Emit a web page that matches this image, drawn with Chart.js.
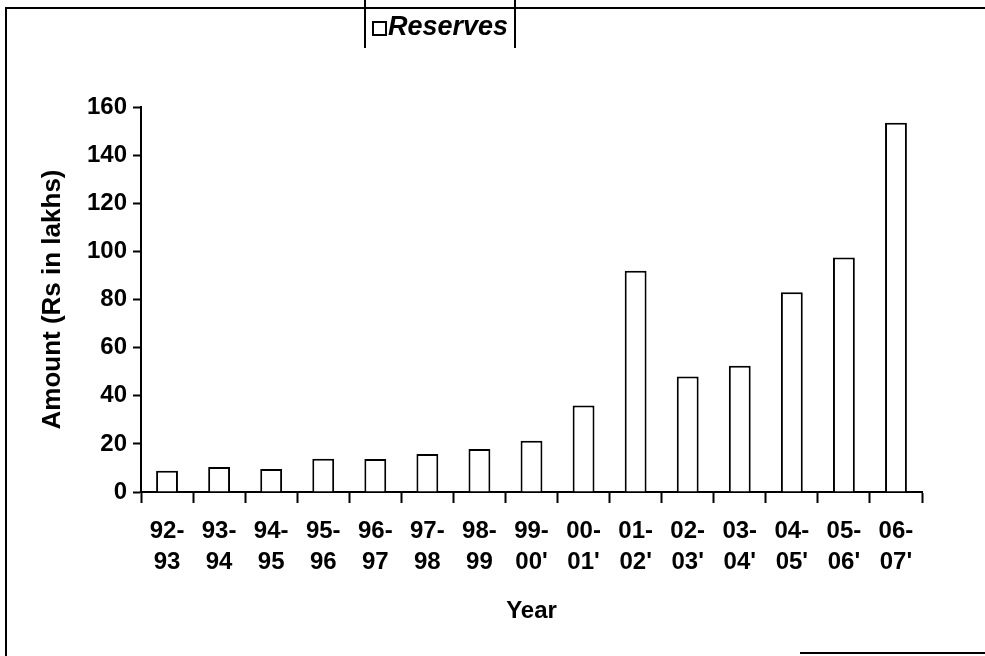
<!DOCTYPE html>
<html>
<head>
<meta charset="utf-8">
<script src="https://cdn.jsdelivr.net/npm/chart.js@4"></script>
<style>
    html, body { margin: 0; padding: 0; background: #fff; }
    #wrap { position: relative; width: 985px; height: 656px; }
    #legendBox {
        position: absolute; left: 364px; top: 0; width: 152px; height: 48px;
        border-left: 2px solid #000; border-right: 2px solid #000;
        box-sizing: border-box;
        font: italic bold 27px 'Liberation Sans', Arial, sans-serif;
        color: #000;
    }
    #legendBox span.sw {
        position: absolute; left: 6px; top: 21px; width: 11px; height: 11px;
        border: 2px solid #000; background: #fff;
    }
    #legendBox span.txt { position: absolute; left: 22px; top: 11px; }
</style>
</head>
<body>
<div id="wrap">
    <canvas id="barChart" width="985" height="656"></canvas>
    <div id="legendBox"></div>
</div>
<script>
// the category labels (two lines each)
const years = [
    ['92-', '93'], ['93-', '94'], ['94-', '95'], ['95-', '96'], ['96-', '97'],
    ['97-', '98'], ['98-', '99'], ['99-', "00'"], ['00-', "01'"], ['01-', "02'"],
    ['02-', "03'"], ['03-', "04'"], ['04-', "05'"], ['05-', "06'"], ['06-', "07'"]
];

// reserves
const reserves = [8.8, 10.4, 9.6, 13.8, 13.7, 15.8, 17.9, 21.3, 36, 92, 48, 52.5, 83, 97.5, 153.5];

// y axis ticks
const yMin = 0;
const yMax = 160;
const yStep = 20;

const seriesName = 'Reserves';

const font = "'Liberation Sans', Arial, sans-serif";

// scan frame round the chart
const framePlugin = {
    id: 'frame',
    beforeDraw (chart) {
        const ctx = chart.ctx;
        ctx.save();
        ctx.strokeStyle = '#000';
        ctx.lineWidth = 2;
        ctx.beginPath();
        ctx.moveTo(6, 656);
        ctx.lineTo(6, 8);
        ctx.lineTo(985, 8);
        ctx.moveTo(800, 653);
        ctx.lineTo(985, 653);
        ctx.stroke();
        ctx.restore();
    }
};

const data = {
    labels: years,
    datasets: [{
        label: seriesName,
        data: reserves,
        backgroundColor: '#ffffff',
        borderColor: '#000000',
        borderWidth: 2,
        barPercentage: 0.42,
        categoryPercentage: 1
    }]
};

const config = {
    type: 'bar',
    data: data,
    options: {
        responsive: false,
        animation: false,
        layout: {
            padding: { left: 0, top: 107, right: 63, bottom: 0 }
        },
        plugins: {
            legend: { display: false },
            tooltip: { enabled: false }
        },
        scales: {
            x: {
                grid: {
                    offset: true,
                    drawOnChartArea: false,
                    drawTicks: true,
                    tickLength: 11,
                    tickColor: '#000',
                    tickWidth: 2
                },
                border: { color: '#000', width: 2 },
                ticks: {
                    color: '#000',
                    padding: 13,
                    maxRotation: 0,
                    autoSkip: false,
                    font: { family: font, size: 24, weight: 'bold', lineHeight: 1.3 }
                },
                title: {
                    display: true,
                    text: 'Year',
                    color: '#000',
                    padding: { top: 0, bottom: 30 },
                    font: { family: font, size: 24, weight: 'bold', lineHeight: 1.2 }
                },
                afterFit (scale) {
                    scale.height = 164;
                }
            },
            y: {
                min: yMin,
                max: yMax,
                grid: {
                    drawOnChartArea: false,
                    drawTicks: true,
                    tickLength: 8,
                    tickColor: '#000',
                    tickWidth: 2
                },
                border: { color: '#000', width: 2 },
                ticks: {
                    stepSize: yStep,
                    color: '#000',
                    padding: 6,
                    font: { family: font, size: 24, weight: 'bold' }
                },
                title: {
                    display: true,
                    text: 'Amount (Rs in lakhs)',
                    color: '#000',
                    padding: { top: 37, bottom: 0 },
                    font: { family: font, size: 26, weight: 'bold', lineHeight: 1.2 }
                },
                afterFit (scale) {
                    scale.width = 141;
                }
            }
        }
    },
    plugins: [framePlugin]
};

const myChart = new Chart(document.getElementById('barChart'), config);

// legend box at the top, built from the dataset label
document.getElementById('legendBox').innerHTML =
    '<span class="sw"></span><span class="txt">' + myChart.data.datasets[0].label + '</span>';
</script>
</body>
</html>
